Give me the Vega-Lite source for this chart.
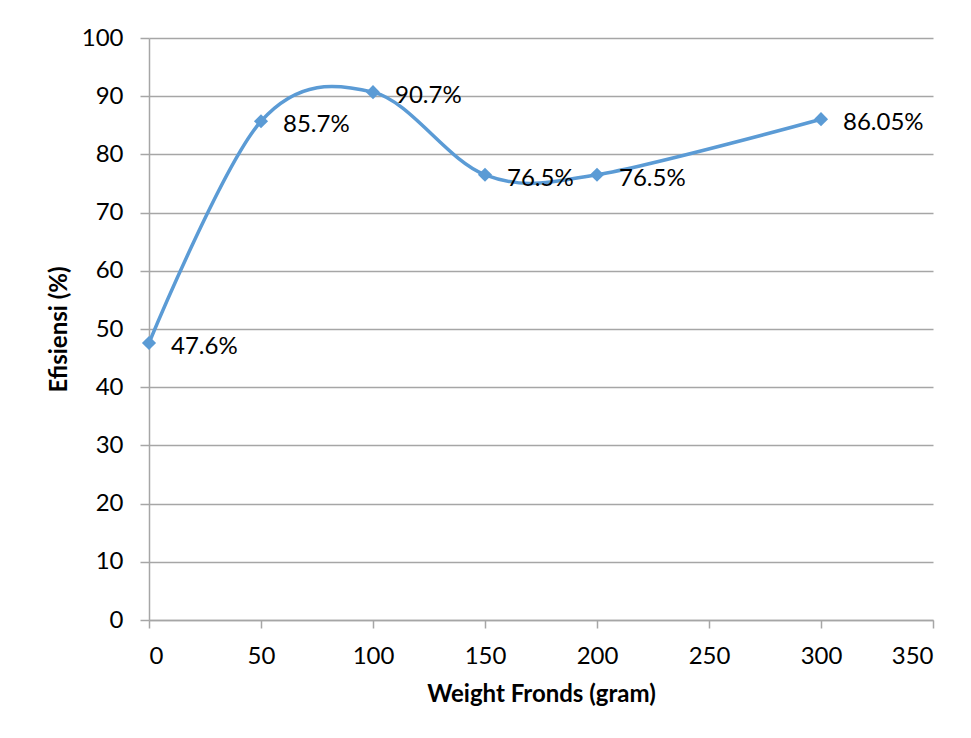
{
  "$schema": "https://vega.github.io/schema/vega-lite/v6.json",
  "width": 784,
  "height": 582,
  "autosize": {"type": "none"},
  "padding": {"left": 149, "top": 38, "right": 38, "bottom": 118},
  "background": "white",
  "config": {
    "view": {"stroke": null},
    "font": "Lato"
  },
  "data": {
    "values": [
      {"weight": 0, "eff": 47.6, "label": "47.6%"},
      {"weight": 50, "eff": 85.7, "label": "85.7%"},
      {"weight": 100, "eff": 90.7, "label": "90.7%"},
      {"weight": 150, "eff": 76.5, "label": "76.5%"},
      {"weight": 200, "eff": 76.5, "label": "76.5%"},
      {"weight": 300, "eff": 86.05, "label": "86.05%"}
    ]
  },
  "encoding": {
    "x": {
      "field": "weight",
      "type": "quantitative",
      "scale": {"domain": [0, 350], "nice": false, "zero": false},
      "axis": {
        "title": "Weight Fronds (gram)",
        "values": [0, 50, 100, 150, 200, 250, 300, 350],
        "grid": false,
        "domainColor": "#a6a6a6",
        "domainWidth": 1.5,
        "tickColor": "#a6a6a6",
        "tickWidth": 1.5,
        "tickSize": 8,
        "labelPadding": 16,
        "labelFontSize": 24,
        "labelFont": "Lato",
        "labelColor": "#000000",
        "titleFont": "Lato",
        "titleFontSize": 24,
        "titleFontWeight": "bold",
        "titleColor": "#000000",
        "titlePadding": 14
      }
    },
    "y": {
      "field": "eff",
      "type": "quantitative",
      "scale": {"domain": [0, 100], "nice": false},
      "axis": {
        "title": "Efisiensi (%)",
        "values": [0, 10, 20, 30, 40, 50, 60, 70, 80, 90, 100],
        "grid": true,
        "gridColor": "#a6a6a6",
        "gridWidth": 1.5,
        "domainColor": "#a6a6a6",
        "domainWidth": 1.5,
        "tickColor": "#a6a6a6",
        "tickWidth": 1.5,
        "tickSize": 9,
        "labelPadding": 17,
        "labelFontSize": 24,
        "labelFont": "Lato",
        "labelColor": "#000000",
        "titleFont": "Lato",
        "titleFontSize": 24,
        "titleFontWeight": "bold",
        "titleColor": "#000000",
        "titlePadding": 10
      }
    }
  },
  "layer": [
    {
      "mark": {"type": "line", "interpolate": "cardinal", "tension": 0, "color": "#5b9bd5", "strokeWidth": 3.5}
    },
    {
      "mark": {"type": "point", "shape": "diamond", "filled": true, "size": 200, "color": "#5b9bd5", "opacity": 1}
    },
    {
      "mark": {"type": "text", "align": "left", "baseline": "middle", "dx": 22, "dy": 4, "fontSize": 24, "font": "Lato", "color": "#000000"},
      "encoding": {"text": {"field": "label", "type": "nominal"}}
    }
  ]
}
